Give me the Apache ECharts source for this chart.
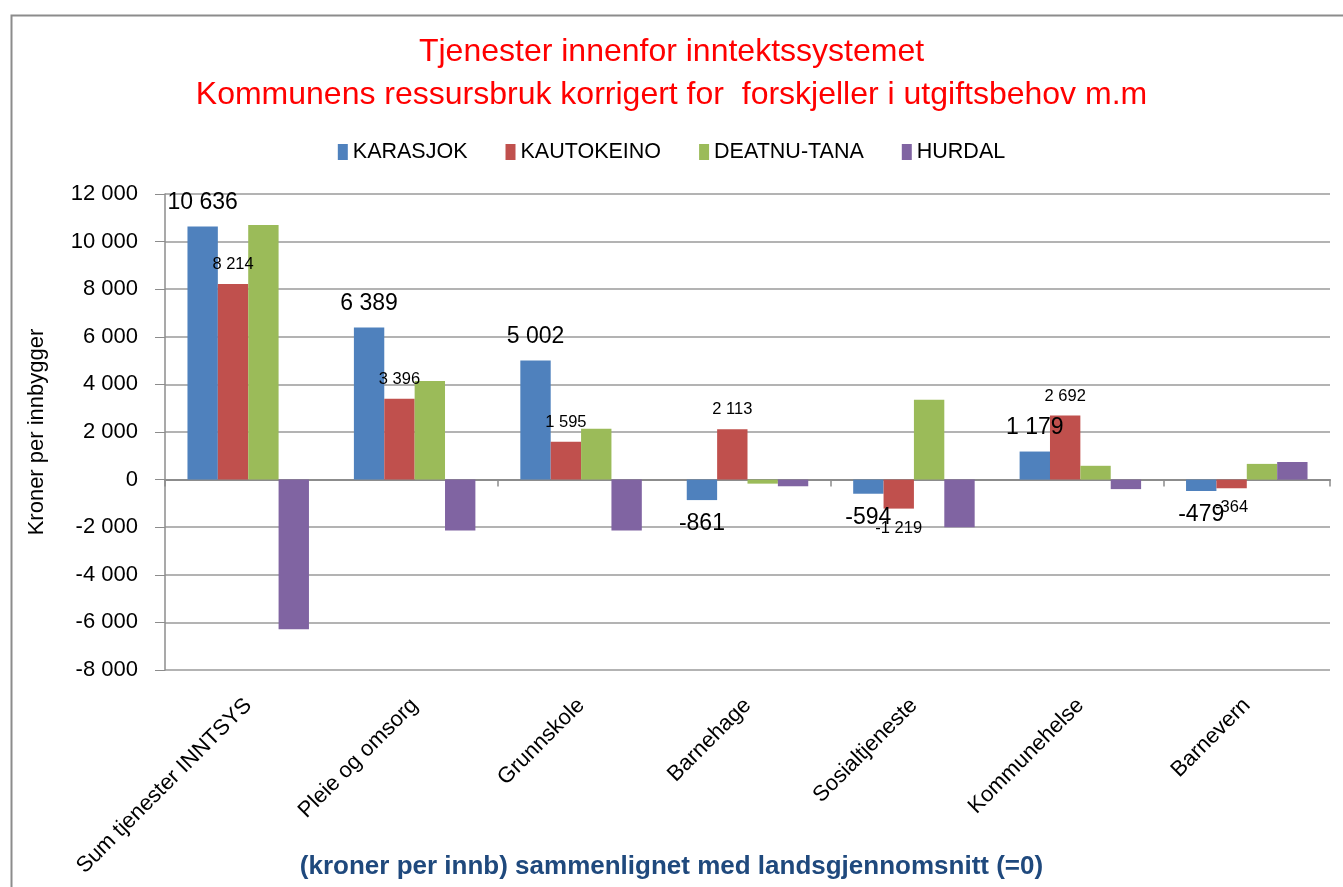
<!DOCTYPE html>
<html>
<head>
<meta charset="utf-8">
<script src="https://cdn.jsdelivr.net/npm/echarts@6/dist/echarts.min.js"></script>
<style>
  html, body { margin: 0; padding: 0; background: #fff; }
  #chart { width: 1343px; height: 887px; }
</style>
</head>
<body>
<div id="chart"></div>
<script>
var categories = ['Sum tjenester INNTSYS', 'Pleie og omsorg', 'Grunnskole', 'Barnehage', 'Sosialtjeneste', 'Kommunehelse', 'Barnevern'];
var karasjok = [10636, 6389, 5002, -861, -594, 1179, -479];
var kautokeino = [8214, 3396, 1595, 2113, -1219, 2692, -364];
var deatnuTana = [10700, 4140, 2140, -170, 3350, 580, 660];
var hurdal = [-6290, -2140, -2140, -280, -2000, -400, 740];
var yTicks = { min: -8000, max: 12000, interval: 2000 };

var fnt = "'Liberation Sans', sans-serif";

function fmt(v) {
    var s = String(Math.abs(v)).replace(/\B(?=(\d{3})+(?!\d))/g, ' ');
    return (v < 0 ? '-' : '') + s;
}

var myChart = echarts.init(document.getElementById('chart'));

var option = {
    backgroundColor: '#fff',
    textStyle: { fontFamily: fnt },
    title: {
        text: 'Tjenester innenfor inntektssystemet\nKommunens ressursbruk korrigert for  forskjeller i utgiftsbehov m.m',
        left: 'center',
        top: 26,
        textStyle: { color: '#ff0000', fontSize: 32, fontWeight: 'normal', lineHeight: 43, fontFamily: fnt }
    },
    legend: {
        top: 136,
        left: 'center',
        itemWidth: 10,
        itemHeight: 16,
        itemGap: 38,
        icon: 'rect',
        textStyle: { fontSize: 21.5, color: '#000', fontFamily: fnt },
        data: ['KARASJOK', 'KAUTOKEINO', 'DEATNU-TANA', 'HURDAL']
    },
    graphic: [{
        type: 'rect',
        left: 9, top: 13,
        shape: { width: 1400, height: 1000 },
        style: { fill: 'none', stroke: '#8c8c8c', lineWidth: 2 }
    }, {
        type: 'text',
        left: 'center',
        top: 854,
        style: {
            text: '(kroner per innb) sammenlignet med landsgjennomsnitt (=0)',
            fill: '#1f497d',
            font: 'bold 26px ' + fnt
        }
    }],
    grid: { left: 165, right: 13, top: 194, bottom: 217, containLabel: false },
    xAxis: [{
        type: 'category',
        data: categories,
        position: 'bottom',
        axisLine: { onZero: false, show: false },
        axisTick: { show: false },
        axisLabel: { rotate: 45, fontSize: 22, color: '#000', margin: 32, interval: 0, fontFamily: fnt }
    }, {
        type: 'category',
        data: categories,
        position: 'bottom',
        axisLine: { onZero: true, onZeroAxisIndex: 0, lineStyle: { color: '#8c8c8c', width: 2 } },
        axisTick: { show: true, length: 7, lineStyle: { color: '#8c8c8c', width: 1.5 } },
        axisLabel: { show: false }
    }],
    yAxis: {
        type: 'value',
        min: yTicks.min,
        max: yTicks.max,
        interval: yTicks.interval,
        name: 'Kroner per innbygger',
        nameLocation: 'middle',
        nameGap: 117,
        nameTextStyle: { fontSize: 22, color: '#000', fontFamily: fnt },
        axisLine: { show: true, lineStyle: { color: '#8c8c8c', width: 1.5 } },
        axisTick: { show: true, length: 10, lineStyle: { color: '#8c8c8c' } },
        splitLine: { lineStyle: { color: '#9a9a9a', width: 1.5 } },
        axisLabel: { fontSize: 22, color: '#000', margin: 27, formatter: fmt, fontFamily: fnt }
    },
    series: [{
        name: 'KARASJOK',
        type: 'bar',
        data: karasjok,
        barGap: '0%',
        barCategoryGap: '27%',
        itemStyle: { color: '#4f81bd' },
        label: { show: true, position: 'outside', distance: 12, fontSize: 23, color: '#000', formatter: function (p) { return fmt(p.value); } }
    }, {
        name: 'KAUTOKEINO',
        type: 'bar',
        data: kautokeino,
        itemStyle: { color: '#c0504d' },
        label: { show: true, position: 'outside', distance: 11, fontSize: 16.5, color: '#000', formatter: function (p) { return fmt(p.value); } }
    }, {
        name: 'DEATNU-TANA',
        type: 'bar',
        data: deatnuTana,
        itemStyle: { color: '#9bbb59' }
    }, {
        name: 'HURDAL',
        type: 'bar',
        data: hurdal,
        itemStyle: { color: '#8064a2' }
    }]
};

myChart.setOption(option);
</script>
</body>
</html>
